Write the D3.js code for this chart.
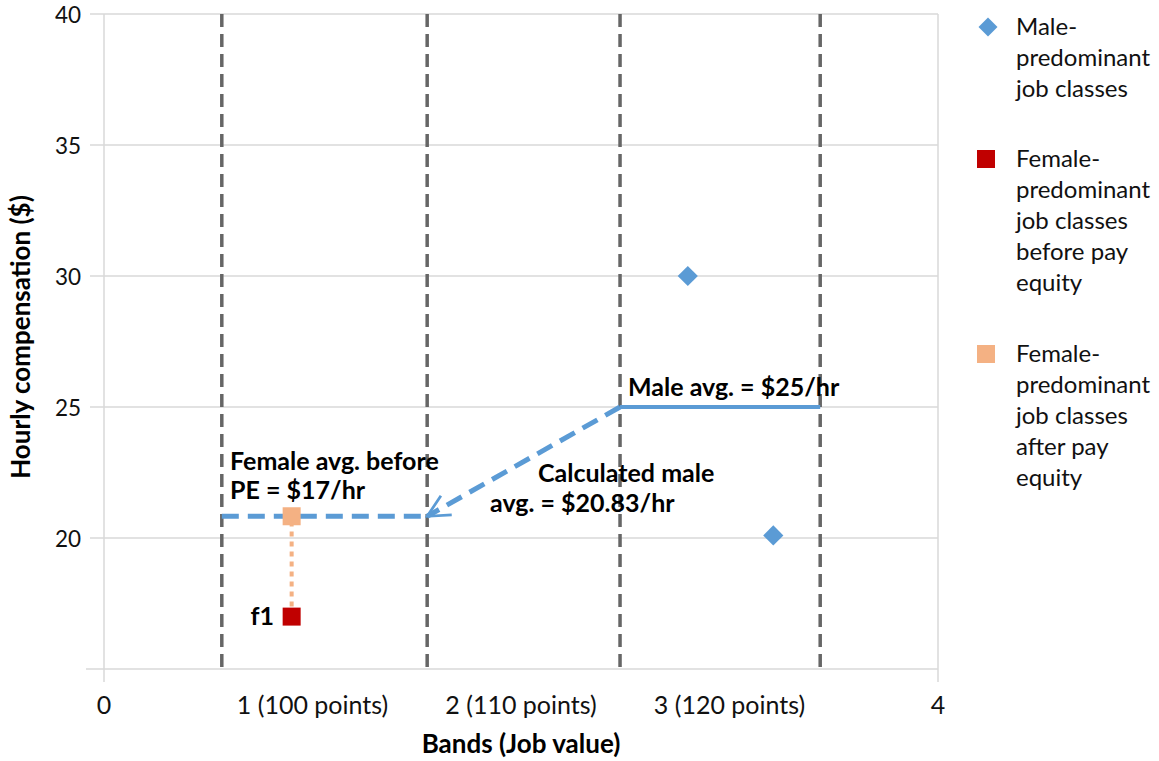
<!DOCTYPE html>
<html>
<head>
<meta charset="utf-8">
<script src="https://cdn.jsdelivr.net/npm/d3@7"></script>
<style>
  html, body { margin: 0; padding: 0; background: #fff; }
  svg { display: block; font-family: Lato, "Open Sans", sans-serif; }
</style>
</head>
<body>
<div id="chart"></div>
<script>
// Data
const xTicks = [0, 1, 2, 3, 4];
const xTickLabels = ["0", "1 (100 points)", "2 (110 points)", "3 (120 points)", "4"];
const yTicks = [20, 25, 30, 35, 40];
const bandBounds = [0.565, 1.55, 2.475, 3.435];
const maleX = [2.8, 3.21];
const maleY = [30, 20.1];
const femaleX = [0.9];
const femaleBeforeY = [17];
const femaleAfterY = [20.83];
const maleAvg = 25;
const calcMaleAvg = 20.83;

const W = 1159, H = 761;
const margin = { top: 14, right: 221, bottom: 92, left: 104 };
const width = W - margin.left - margin.right;
const height = H - margin.top - margin.bottom;

const blue = "#5b9bd5", red = "#c00000", peach = "#f4b183", dashGrey = "#666";

const svg = d3.select("#chart").append("svg")
  .attr("width", W).attr("height", H);

const defs = svg.append("defs");
defs.append("marker")
  .attr("id", "arrow")
  .attr("viewBox", "0 0 10 10")
  .attr("refX", 9).attr("refY", 5)
  .attr("markerWidth", 5.5).attr("markerHeight", 5.5)
  .attr("markerUnits", "strokeWidth")
  .attr("orient", "auto")
  .append("path")
  .attr("d", "M1,1 L9,5 L1,9")
  .attr("fill", "none")
  .attr("stroke", blue)
  .attr("stroke-width", 1);

const g = svg.append("g").attr("transform", `translate(${margin.left},${margin.top})`);

const x = d3.scaleLinear().domain([0, 4]).range([0, width]);
const y = d3.scaleLinear().domain([15, 40]).range([height, 0]);

// Gridlines (extend slightly left like tick marks)
g.selectAll(".grid")
  .data(yTicks)
  .enter().append("line")
  .attr("x1", -14).attr("x2", width)
  .attr("y1", d => y(d)).attr("y2", d => y(d))
  .attr("stroke", "#d9d9d9").attr("stroke-width", 1.5);

// Axis lines
g.append("line").attr("x1", -18).attr("x2", width)
  .attr("y1", y(15)).attr("y2", y(15))
  .attr("stroke", "#d9d9d9").attr("stroke-width", 1.5);
[0, 4].forEach(v => {
  g.append("line").attr("x1", x(v)).attr("x2", x(v))
    .attr("y1", 0).attr("y2", y(15) + 13)
    .attr("stroke", "#d9d9d9").attr("stroke-width", 1.5);
});

// Tick labels
g.selectAll(".ytick")
  .data(yTicks)
  .enter().append("text")
  .attr("x", -23).attr("y", d => y(d))
  .attr("dy", "0.4em")
  .attr("text-anchor", "end")
  .attr("font-size", 22.5).attr("fill", "#111")
  .text(d => d);

g.selectAll(".xtick")
  .data(xTicks)
  .enter().append("text")
  .attr("x", d => x(d)).attr("y", y(15) + 45)
  .attr("text-anchor", "middle")
  .attr("font-size", 25).attr("fill", "#111")
  .text((d, i) => xTickLabels[i]);

// Axis titles
svg.append("text")
  .attr("transform", `translate(30,${margin.top + 323}) rotate(-90)`)
  .attr("text-anchor", "middle")
  .attr("font-size", 26).attr("font-weight", 700).attr("fill", "#000")
  .text("Hourly compensation ($)");

svg.append("text")
  .attr("x", 521).attr("y", 753)
  .attr("text-anchor", "middle")
  .attr("font-size", 26).attr("font-weight", 700).attr("fill", "#000")
  .text("Bands (Job value)");

// Band boundaries
g.selectAll(".band")
  .data(bandBounds)
  .enter().append("line")
  .attr("x1", d => x(d)).attr("x2", d => x(d))
  .attr("y1", 0).attr("y2", y(15))
  .attr("stroke", dashGrey).attr("stroke-width", 3.5)
  .attr("stroke-dasharray", "13,7");

// Male average (solid) across band 3
g.append("line")
  .attr("x1", x(bandBounds[2])).attr("x2", x(bandBounds[3]))
  .attr("y1", y(maleAvg)).attr("y2", y(maleAvg))
  .attr("stroke", blue).attr("stroke-width", 4);

// Calculated male avg (dashed) across band 1
g.append("line")
  .attr("x1", x(bandBounds[0])).attr("x2", x(bandBounds[1]))
  .attr("y1", y(calcMaleAvg)).attr("y2", y(calcMaleAvg))
  .attr("stroke", blue).attr("stroke-width", 5)
  .attr("stroke-dasharray", "17,9");

// Dashed arrow from male avg to calculated line
g.append("line")
  .attr("x1", x(bandBounds[2])).attr("y1", y(maleAvg))
  .attr("x2", x(bandBounds[1])).attr("y2", y(calcMaleAvg))
  .attr("stroke", blue).attr("stroke-width", 5)
  .attr("stroke-dasharray", "17,9")
  .attr("marker-end", "url(#arrow)");

// Dotted adjustment line
g.append("line")
  .attr("x1", x(femaleX[0])).attr("x2", x(femaleX[0]))
  .attr("y1", y(femaleBeforeY[0])).attr("y2", y(femaleAfterY[0]))
  .attr("stroke", peach).attr("stroke-width", 4)
  .attr("stroke-dasharray", "5,5");

// Points
const diamond = d3.symbol().type(d3.symbolDiamond2).size(260);
g.selectAll(".male")
  .data(maleX)
  .enter().append("path")
  .attr("d", diamond)
  .attr("transform", (d, i) => `translate(${x(d)},${y(maleY[i])})`)
  .attr("fill", blue);

g.selectAll(".fafter")
  .data(femaleX)
  .enter().append("rect")
  .attr("x", d => x(d) - 9).attr("y", (d, i) => y(femaleAfterY[i]) - 9)
  .attr("width", 18).attr("height", 18)
  .attr("fill", peach);

g.selectAll(".fbefore")
  .data(femaleX)
  .enter().append("rect")
  .attr("x", d => x(d) - 9).attr("y", (d, i) => y(femaleBeforeY[i]) - 9)
  .attr("width", 18).attr("height", 18)
  .attr("fill", red);

// Annotations
const ann = (tx, ty, str, anchor) => svg.append("text")
  .attr("x", tx).attr("y", ty)
  .attr("text-anchor", anchor || "start")
  .attr("font-size", 25).attr("font-weight", 700).attr("fill", "#000")
  .text(str);

ann(230, 470, "Female avg. before");
ann(230, 499, "PE = $17/hr");
ann(538, 482, "Calculated male");
ann(490, 512, "avg. = $20.83/hr");
ann(628, 396, "Male avg. = $25/hr");
ann(274, 625, "f1", "end");

// Legend
const legendItems = [
  { lines: ["Male-", "predominant", "job classes"], y0: 27, shape: "diamond", color: blue },
  { lines: ["Female-", "predominant", "job classes", "before pay", "equity"], y0: 159, shape: "square", color: red },
  { lines: ["Female-", "predominant", "job classes", "after pay", "equity"], y0: 354, shape: "square", color: peach }
];

const lg = svg.append("g");
legendItems.forEach(item => {
  if (item.shape === "diamond") {
    lg.append("path")
      .attr("d", d3.symbol().type(d3.symbolDiamond2).size(230))
      .attr("transform", `translate(988,${item.y0})`)
      .attr("fill", item.color);
  } else {
    lg.append("rect")
      .attr("x", 977).attr("y", item.y0 - 9)
      .attr("width", 18).attr("height", 18)
      .attr("fill", item.color);
  }
  item.lines.forEach((t, i) => {
    lg.append("text")
      .attr("x", 1016).attr("y", item.y0 + i * 30.8)
      .attr("dy", "0.35em")
      .attr("font-size", 24).attr("fill", "#111")
      .text(t);
  });
});
</script>
</body>
</html>
